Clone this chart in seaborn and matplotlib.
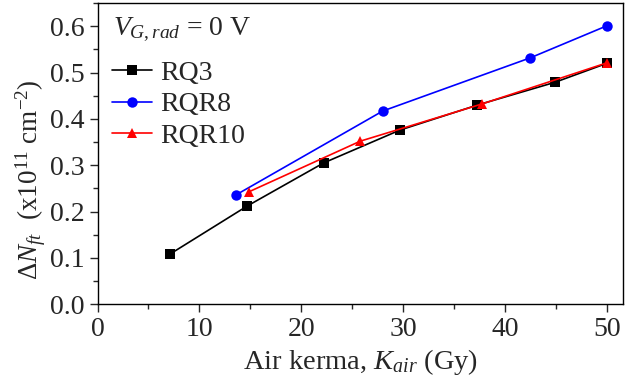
import pandas as pd
import matplotlib
matplotlib.use("Agg")
import matplotlib.pyplot as plt
import seaborn as sns
from matplotlib.ticker import MultipleLocator


# =========================
# DATA
# =========================

rq3_kerma = [7.1, 14.7, 22.2, 29.7, 37.3, 44.9, 50.0]
rq3_dn = [0.108, 0.212, 0.305, 0.376, 0.430, 0.479, 0.520]

rqr8_kerma = [13.6, 28.0, 42.5, 50.0]
rqr8_dn = [0.236, 0.417, 0.532, 0.601]

rqr10_kerma = [14.9, 25.8, 37.7, 50.0]
rqr10_dn = [0.243, 0.352, 0.432, 0.521]

series_names = ["RQ3", "RQR8", "RQR10"]
colors = {"RQ3": "black", "RQR8": "#0000FF", "RQR10": "#FF0000"}
markers = {"RQ3": "s", "RQR8": "o", "RQR10": "^"}


df = pd.concat([

    pd.DataFrame({"kerma": rq3_kerma, "dn": rq3_dn, "beam": "RQ3"}),

    pd.DataFrame({"kerma": rqr8_kerma, "dn": rqr8_dn, "beam": "RQR8"}),

    pd.DataFrame({"kerma": rqr10_kerma, "dn": rqr10_dn, "beam": "RQR10"}),
], ignore_index=True)


# =========================
# STYLE
# =========================

sns.set_style("ticks")

plt.rcParams["font.family"] = ["Liberation Serif", "DejaVu Serif"]
plt.rcParams["mathtext.fontset"] = "custom"
plt.rcParams["mathtext.rm"] = "Liberation Serif"
plt.rcParams["mathtext.it"] = "Liberation Serif:italic"


# =========================
# PLOT
# =========================

fig = plt.figure(figsize=(6.25, 3.9), dpi=100)

ax = fig.add_axes([0.156, 0.22, 0.841, 0.772])

sns.lineplot(

    data=df,

    x="kerma",

    y="dn",

    hue="beam",

    style="beam",

    hue_order=series_names,

    style_order=series_names,

    palette=colors,

    markers=markers,

    dashes=False,

    sort=False,

    linewidth=1.2,

    markersize=7.5,

    markeredgewidth=0,

    ax=ax
)

ax.set_xlim(0, 51.6)
ax.set_ylim(0, 0.65)

ax.xaxis.set_major_locator(MultipleLocator(10))
ax.xaxis.set_minor_locator(MultipleLocator(5))
ax.yaxis.set_major_locator(MultipleLocator(0.1))
ax.yaxis.set_minor_locator(MultipleLocator(0.05))
ax.yaxis.set_major_formatter(matplotlib.ticker.FormatStrFormatter("%.1f"))

ax.tick_params(which="major", direction="out", length=6, width=1, labelsize=20, top=False, right=False)
ax.tick_params(which="minor", direction="out", length=3.5, width=1, top=False, right=False)

for side in ["top", "right", "bottom", "left"]:
    ax.spines[side].set_visible(True)
    ax.spines[side].set_linewidth(1.0)
    ax.spines[side].set_color("black")

ax.set_xlabel(r"Air kerma, $K_{air}$ (Gy)", fontsize=20.5, labelpad=3)

ax.set_ylabel(r"$\Delta N_{ft}$  (x10$^{11}$ cm$^{-2}$)", fontsize=19.5)
ax.yaxis.set_label_coords(-0.095, 0.413)


# =========================
# LEGEND
# =========================

ax.text(

    0.03,

    0.895,

    r"$V_{G,rad}$ = 0 V",

    transform=ax.transAxes,

    fontsize=20,

    ha="left",

    va="baseline"
)

leg = ax.legend(

    loc="upper left",

    bbox_to_anchor=(0.027, 0.81),

    frameon=False,

    fontsize=20,

    handlelength=1.45,

    handletextpad=0.3,

    labelspacing=0.22,

    borderaxespad=0,

    borderpad=0
)


plt.savefig("out.png", dpi=100)
